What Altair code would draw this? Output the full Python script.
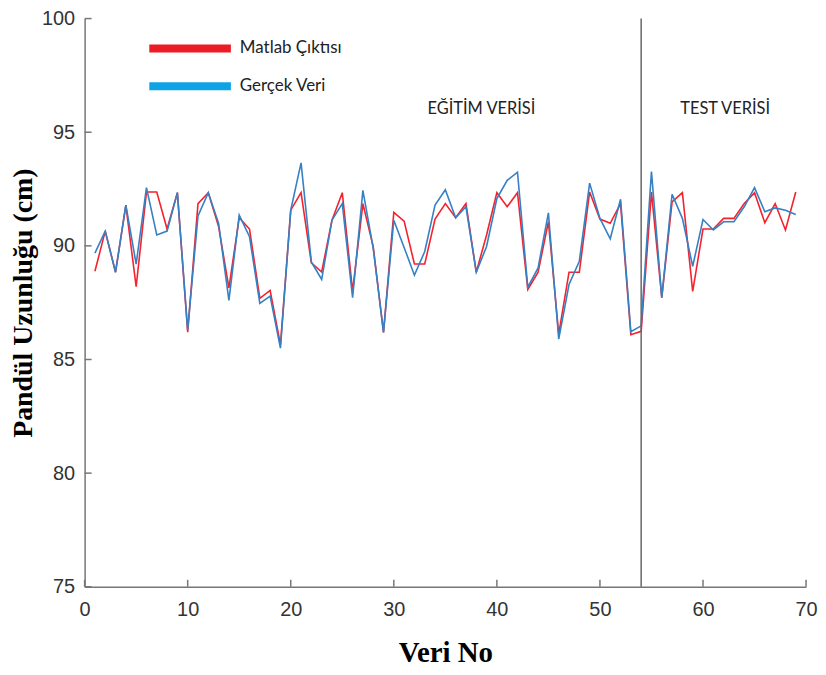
import altair as alt
import pandas as pd

veri_no = list(range(1, 70))
gercek = [89.68, 90.65, 88.84, 91.79, 89.2, 92.56, 90.48, 90.65, 92.34, 86.3,
          91.32, 92.34, 90.99, 87.6, 91.35, 90.4, 87.47, 87.79, 85.5, 91.57,
          93.65, 89.29, 88.52, 91.13, 91.86, 87.72, 92.44, 89.9, 86.19, 91.13,
          89.93, 88.71, 89.75, 91.79, 92.47, 91.24, 91.72, 88.84, 89.97, 92.08,
          92.88, 93.24, 88.18, 89.03, 91.45, 85.9, 88.3, 89.32, 92.76, 91.21,
          90.31, 92.05, 86.22, 86.48, 93.27, 87.72, 92.27, 91.21, 89.1, 91.16,
          90.7, 91.06, 91.06, 91.72, 92.56, 91.5, 91.67, 91.57, 91.38]
matlab = [88.88, 90.65, 88.84, 91.79, 88.2, 92.37, 92.37, 90.74, 92.34, 86.2,
          91.86, 92.34, 90.85, 88.15, 91.24, 90.74, 87.69, 88.04, 85.65, 91.57,
          92.34, 89.25, 88.85, 91.13, 92.34, 88.0, 91.86, 89.97, 86.19, 91.47,
          91.09, 89.2, 89.2, 91.18, 91.86, 91.24, 91.86, 88.84, 90.48, 92.34,
          91.72, 92.34, 88.08, 88.84, 91.06, 86.12, 88.84, 88.84, 92.37, 91.18,
          90.99, 91.86, 86.09, 86.24, 92.37, 87.72, 91.93, 92.34, 88.0, 90.74,
          90.74, 91.21, 91.21, 91.86, 92.34, 91.02, 91.86, 90.7, 92.37]

series_names = ["Matlab Çıktısı", "Gerçek Veri"]
x_ticks = [0, 10, 20, 30, 40, 50, 60, 70]
y_ticks = [75, 80, 85, 90, 95, 100]
split_at = [54]
ann_labels = ["EĞİTİM VERİSİ", "TEST VERİSİ"]
ann_x = [38.5, 62.15]
ann_y = [96.0, 96.0]

df = pd.DataFrame({
    "x": veri_no * 2,
    "y": matlab + gercek,
    "series": [series_names[0]] * len(veri_no) + [series_names[1]] * len(veri_no),
})
df_xt = pd.DataFrame({"x": x_ticks})
df_yt = pd.DataFrame({"y": y_ticks})
df_split = pd.DataFrame({"x": split_at})
df_ann = pd.DataFrame({"x": ann_x, "y": ann_y, "label": ann_labels})

W, H = 725, 571
AXC = "#777777"

xscale = alt.Scale(domain=[0, 70], nice=False, zero=False)
yscale = alt.Scale(domain=[75, 100], nice=False, zero=False)

xaxis = alt.Axis(values=x_ticks, ticks=False, grid=False, domainColor=AXC, domainWidth=1.5,
                 labelFont="Liberation Sans", labelFontSize=20, labelColor="#333333",
                 labelPadding=13, labelFlush=False, title="Veri No",
                 titleFont="Liberation Serif", titleFontSize=29, titleFontWeight="bold",
                 titleColor="#000000", titlePadding=19)
yaxis = alt.Axis(values=y_ticks, ticks=False, grid=False, domainColor=AXC, domainWidth=1.5,
                 labelFont="Liberation Sans", labelFontSize=20, labelColor="#333333",
                 labelPadding=10, labelFlush=False, title="Pandül Uzunluğu (cm)",
                 titleFont="Liberation Serif", titleFontSize=28, titleFontWeight="bold",
                 titleColor="#000000", titlePadding=4)

lines = alt.Chart(df).mark_line(strokeWidth=1.6).encode(
    x=alt.X("x:Q", scale=xscale, axis=xaxis),
    y=alt.Y("y:Q", scale=yscale, axis=yaxis),
    color=alt.Color("series:N",
                    scale=alt.Scale(domain=["Gerçek Veri", "Matlab Çıktısı"],
                                    range=["#3680c4", "#f5222d"]),
                    legend=None),
)

legend_layer = alt.Chart(df).mark_point(size=0, opacity=1, filled=False, strokeWidth=8).encode(
    x=alt.X("x:Q", scale=xscale),
    y=alt.Y("y:Q", scale=yscale),
    stroke=alt.Stroke("series:N",
                      scale=alt.Scale(domain=series_names, range=["#ec1c24", "#0ea2e6"]),
                      legend=alt.Legend(title=None, orient="none", legendX=61, legendY=22,
                                        symbolType="stroke", symbolSize=82 * 82,
                                        symbolStrokeWidth=8, clipHeight=16, rowPadding=21,
                                        labelFont="Lato", labelFontSize=17,
                                        labelColor="#222222", labelOffset=5, padding=0)),
)

yticks = alt.Chart(df_yt).mark_rule(color=AXC, strokeWidth=1.5).encode(
    y=alt.Y("y:Q", scale=yscale), x=alt.value(0), x2=alt.value(7))
xticks = alt.Chart(df_xt).mark_rule(color=AXC, strokeWidth=1.5).encode(
    x=alt.X("x:Q", scale=xscale), y=alt.value(H), y2=alt.value(H - 7))

split = alt.Chart(df_split).mark_rule(color="#666666", strokeWidth=1.5).encode(
    x=alt.X("x:Q", scale=xscale))

ann = alt.Chart(df_ann).mark_text(font="Lato", fontSize=16.5, color="#222222").encode(
    x=alt.X("x:Q", scale=xscale), y=alt.Y("y:Q", scale=yscale), text="label:N")

chart = alt.layer(lines, legend_layer, yticks, xticks, split, ann).properties(
    width=W, height=H,
    autosize=alt.AutoSizeParams(type="none"),
    padding={"left": 77, "top": 9, "right": 12, "bottom": 79},
).configure_view(stroke=None)

chart.save("out.html", embed_options={"renderer": "svg", "actions": False})
